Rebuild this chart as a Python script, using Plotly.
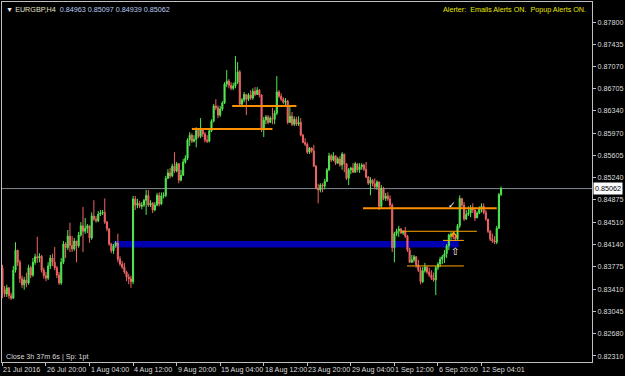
import plotly.graph_objects as go

# ---------------- data ----------------
price_ticks = [0.87800, 0.87435, 0.87070, 0.86705, 0.86340, 0.85970, 0.85605, 0.85240,
               0.84875, 0.84510, 0.84140, 0.83775, 0.83410, 0.83045, 0.82680, 0.82310]
time_labels = ["21 Jul 2016", "26 Jul 20:00", "1 Aug 04:00", "4 Aug 12:00", "9 Aug 20:00",
               "15 Aug 04:00", "18 Aug 12:00", "23 Aug 20:00", "29 Aug 04:00", "1 Sep 12:00",
               "6 Sep 20:00", "12 Sep 04:01"]
time_label_bars = [0, 20, 40, 60, 80, 100, 120, 140, 160, 180, 200, 220]

first_open = 0.8376
closes = [
    .8340, .8333, .8343, .8330, .8326, .8372, .8405, .8385, .8358, .8348,
    .8356, .8351, .8376, .8364, .8385, .8394, .8392, .8395, .8372, .8363,
    .8359, .8379, .8392, .8385, .8376, .8364, .8351, .8385, .8415, .8409,
    .8428, .8413, .8407, .8420, .8412, .8430, .8445, .8436, .8441, .8445,
    .8425, .8461, .8456, .8453, .8464, .8466, .8467, .8451, .8440, .8415,
    .8404, .8412, .8417, .8390, .8382, .8377, .8369, .8361, .8358, .8353,
    .8489, .8479, .8482, .8477, .8479, .8487, .8495, .8479, .8482, .8471,
    .8479, .8495, .8481, .8494, .8495, .8523, .8532, .8527, .8543, .8535,
    .8547, .8520, .8528, .8550, .8556, .8586, .8594, .8584, .8587, .8602,
    .8592, .8604, .8596, .8586, .8584, .8601, .8617, .8642, .8639, .8627,
    .8637, .8647, .8678, .8683, .8676, .8671, .8675, .8681, .8698, .8645,
    .8652, .8661, .8653, .8660, .8655, .8666, .8661, .8668, .8660, .8605,
    .8619, .8624, .8615, .8622, .8620, .8630, .8665, .8658, .8653, .8648,
    .8650, .8615, .8625, .8612, .8620, .8612, .8615, .8594, .8582, .8579,
    .8566, .8573, .8568, .8543, .8507, .8504, .8512, .8510, .8518, .8537,
    .8560, .8553, .8560, .8548, .8555, .8545, .8563, .8547, .8523, .8537,
    .8540, .8533, .8547, .8537, .8542, .8545, .8538, .8525, .8515, .8520,
    .8514, .8509, .8517, .8477, .8507, .8490, .8494, .8489, .8479, .8409,
    .8432, .8436, .8440, .8433, .8436, .8428, .8405, .8385, .8389, .8394,
    .8381, .8372, .8353, .8371, .8377, .8369, .8364, .8359, .8356, .8376,
    .8382, .8390, .8394, .8399, .8412, .8430, .8431, .8427, .8423, .8445,
    .8490, .8479, .8456, .8464, .8466, .8474, .8471, .8458, .8466, .8474,
    .8477, .8467, .8456, .8436, .8423, .8420, .8418, .8441, .84963, .85062,
]
highs = [
    .8381, .8346, .8348, .8344, .8335, .8379, .8418, .8405, .8389, .8363,
    .8361, .8368, .8381, .8379, .8392, .8399, .8427, .8400, .8397, .8376,
    .8369, .8385, .8397, .8399, .8410, .8379, .8369, .8392, .8420, .8418,
    .8438, .8450, .8428, .8425, .8420, .8435, .8451, .8476, .8458, .8448,
    .8446, .8467, .8487, .8461, .8469, .8471, .8471, .8490, .8453, .8441,
    .8417, .8415, .8420, .8432, .8395, .8387, .8384, .8371, .8366, .8363,
    .8494, .8494, .8489, .8486, .8484, .8489, .8504, .8504, .8487, .8484,
    .8484, .8499, .8500, .8500, .8500, .8527, .8538, .8540, .8547, .8566,
    .8550, .8548, .8537, .8555, .8561, .8589, .8599, .8597, .8594, .8607,
    .8602, .8622, .8602, .8599, .8594, .8604, .8620, .8645, .8653, .8643,
    .8642, .8650, .8681, .8701, .8686, .8681, .8680, .8724, .8714, .8701,
    .8655, .8665, .8658, .8663, .8668, .8671, .8673, .8673, .8670, .8661,
    .8624, .8627, .8627, .8625, .8639, .8635, .8691, .8668, .8663, .8656,
    .8655, .8652, .8642, .8632, .8625, .8624, .8625, .8622, .8596, .8589,
    .8582, .8574, .8574, .8578, .8545, .8514, .8515, .8515, .8522, .8540,
    .8565, .8563, .8566, .8560, .8558, .8560, .8566, .8553, .8548, .8540,
    .8542, .8548, .8550, .8547, .8548, .8548, .8547, .8550, .8527, .8525,
    .8522, .8523, .8520, .8518, .8512, .8509, .8499, .8500, .8495, .8482,
    .8435, .8440, .8445, .8441, .8438, .8443, .8430, .8409, .8397, .8397,
    .8395, .8389, .8377, .8377, .8384, .8379, .8376, .8372, .8368, .8379,
    .8385, .8394, .8397, .8405, .8415, .8432, .8435, .8432, .8430, .8448,
    .8495, .8490, .8484, .8471, .8477, .8479, .8482, .8472, .8469, .8477,
    .8482, .8482, .8471, .8456, .8438, .8432, .8428, .8445, .8499, .85097,
]
lows = [
    .8326, .8328, .8328, .8325, .8323, .8325, .8368, .8379, .8351, .8343,
    .8340, .8344, .8348, .8359, .8361, .8381, .8384, .8385, .8368, .8358,
    .8354, .8356, .8374, .8379, .8372, .8359, .8348, .8348, .8382, .8392,
    .8405, .8402, .8402, .8404, .8385, .8409, .8427, .8402, .8432, .8433,
    .8417, .8422, .8453, .8450, .8451, .8461, .8463, .8448, .8436, .8412,
    .8400, .8399, .8409, .8385, .8379, .8374, .8366, .8354, .8349, .8343,
    .8349, .8471, .8474, .8474, .8472, .8476, .8463, .8476, .8476, .8466,
    .8469, .8477, .8477, .8479, .8490, .8492, .8522, .8523, .8525, .8532,
    .8533, .8515, .8518, .8527, .8547, .8553, .8576, .8581, .8582, .8574,
    .8589, .8589, .8591, .8582, .8581, .8582, .8599, .8615, .8635, .8622,
    .8624, .8634, .8645, .8673, .8671, .8668, .8668, .8671, .8678, .8642,
    .8642, .8648, .8627, .8650, .8652, .8652, .8658, .8660, .8656, .8599,
    .8591, .8612, .8612, .8614, .8612, .8612, .8627, .8655, .8650, .8645,
    .8643, .8612, .8614, .8609, .8609, .8609, .8609, .8592, .8581, .8576,
    .8563, .8563, .8565, .8542, .8505, .8482, .8500, .8500, .8505, .8517,
    .8535, .8550, .8551, .8545, .8547, .8542, .8537, .8533, .8520, .8512,
    .8530, .8532, .8533, .8533, .8532, .8537, .8535, .8523, .8512, .8495,
    .8510, .8505, .8504, .8471, .8474, .8487, .8486, .8486, .8474, .8402,
    .8385, .8428, .8427, .8432, .8430, .8425, .8402, .8384, .8384, .8385,
    .8376, .8369, .8349, .8351, .8368, .8366, .8361, .8356, .8353, .8331,
    .8372, .8377, .8382, .8384, .8392, .8405, .8422, .8423, .8420, .8422,
    .8441, .8474, .8453, .8455, .8461, .8459, .8466, .8453, .8458, .8464,
    .8467, .8464, .8453, .8433, .8420, .8417, .8415, .8415, .8440, .84939,
]

# chart objects: (start bar, end bar, price level)
thick_levels = [(87, 124, 0.8604), (105.5, 135, 0.8642), (165.6, 227, 0.8474)]
thin_levels = [(183.5, 217.9, 0.8436), (202.3, 211.9, 0.8421), (185.8, 211.9, 0.8379)]
zone = (50.9, 209.6, 0.84095, 0.84200)
current_price = 0.85062
header_ohlc = "0.84963 0.85097 0.84939 0.85062"

# ---------------- figure ----------------
opens = [first_open] + closes[:-1]
highs_c = [max(h, o, c) for h, o, c in zip(highs, opens, closes)]
lows_c = [min(l, o, c) for l, o, c in zip(lows, opens, closes)]
bars = list(range(len(closes)))

GREEN = "#52E852"
RED = "#F06464"
TXT = "#DCDCDC"
FONT = "Liberation Sans, Arial, sans-serif"

fig = go.Figure()
fig.add_trace(go.Candlestick(
    x=bars, open=opens, high=highs_c, low=lows_c, close=closes,
    increasing=dict(line=dict(color=GREEN, width=1), fillcolor=GREEN),
    decreasing=dict(line=dict(color=RED, width=1), fillcolor=RED),
    whiskerwidth=0, showlegend=False, hoverinfo="skip",
))

shapes = []
shapes.append(dict(type="rect", xref="x", yref="y", x0=zone[0], x1=zone[1], y0=zone[2], y1=zone[3],
                   fillcolor="#0000B0", line=dict(width=0), layer="below"))
shapes.append(dict(type="line", xref="paper", yref="y", x0=0, x1=1, y0=current_price, y1=current_price,
                   line=dict(color="#808890", width=1), layer="below"))
for s, e, p in thick_levels:
    shapes.append(dict(type="line", xref="x", yref="y", x0=s, x1=e, y0=p, y1=p,
                       line=dict(color="#FF9000", width=2)))
for s, e, p in thin_levels:
    shapes.append(dict(type="line", xref="x", yref="y", x0=s, x1=e, y0=p, y1=p,
                       line=dict(color="#FFA500", width=1)))
# small orange trend mark
shapes.append(dict(type="path", xref="x", yref="y",
                   path="M 205.8 0.8427 L 207.2 0.8434 L 209.0 0.8426",
                   line=dict(color="#FFA500", width=1.5)))
fig.update_layout(shapes=shapes)

ann = []
for b, t in zip(time_label_bars, time_labels):
    ann.append(dict(x=b, y=0, xref="x", yref="paper", text=t, showarrow=False,
                    xanchor="left", yanchor="top", yshift=-1, xshift=-1,
                    font=dict(family=FONT, size=7.2, color=TXT)))
ann.append(dict(x=1, y=current_price, xref="paper", yref="y", text="0.85062", showarrow=False,
                xanchor="left", yanchor="middle", xshift=1, bgcolor="#FFFFFF", borderpad=1,
                font=dict(family=FONT, size=7.2, color="#000000")))
ann.append(dict(x=0, y=1, xref="paper", yref="paper", xanchor="left", yanchor="middle",
                xshift=2, yshift=-7, showarrow=False,
                text="<span style='color:#E8E8E8'>▼</span> <span style='color:#E6E2C8'>EURGBP,H4</span>  "
                     "<span style='color:#B8CCF0'>" + header_ohlc + "</span>",
                font=dict(family=FONT, size=7.2, color="#E8E8E8")))
ann.append(dict(x=1, y=1, xref="paper", yref="paper", xanchor="right", yanchor="middle",
                xshift=-4, yshift=-7, showarrow=False,
                text="Alerter:  Emails Alerts ON.  Popup Alerts ON.",
                font=dict(family=FONT, size=7.2, color="#E6E600")))
ann.append(dict(x=0, y=0, xref="paper", yref="paper", xanchor="left", yanchor="middle",
                xshift=2, yshift=6, showarrow=False,
                text="Close 3h 37m 6s | Sp: 1pt",
                font=dict(family=FONT, size=7.2, color=TXT)))
ann.append(dict(x=206.5, y=0.8480, xref="x", yref="y", text="✓", showarrow=False,
                font=dict(family="DejaVu Sans", size=9, color="#FFFFFF")))
ann.append(dict(x=208.0, y=0.8403, xref="x", yref="y", text="⇧", showarrow=False,
                font=dict(family="DejaVu Sans", size=10, color="#FFFFFF")))
fig.update_layout(annotations=ann)

fig.update_layout(
    width=625, height=376,
    margin=dict(l=2, r=33, t=2, b=14),
    paper_bgcolor="#000000", plot_bgcolor="#000000",
    showlegend=False,
    xaxis=dict(range=[-0.2, 270.75], rangeslider=dict(visible=False), showgrid=False, zeroline=False,
               tickvals=time_label_bars, ticks="outside", ticklen=3, tickcolor="#C0C0C0",
               showticklabels=False, showline=True, mirror=True, linecolor="#C0C0C0", linewidth=1),
    yaxis=dict(range=[0.82211, 0.88129], side="right", showgrid=False, zeroline=False,
               tickvals=price_ticks, ticktext=["%.5f" % v for v in price_ticks],
               ticks="outside", ticklen=3, tickcolor="#C0C0C0",
               tickfont=dict(family=FONT, size=7.2, color=TXT),
               showline=True, mirror=True, linecolor="#C0C0C0", linewidth=1),
)

fig.write_html("out.html")
